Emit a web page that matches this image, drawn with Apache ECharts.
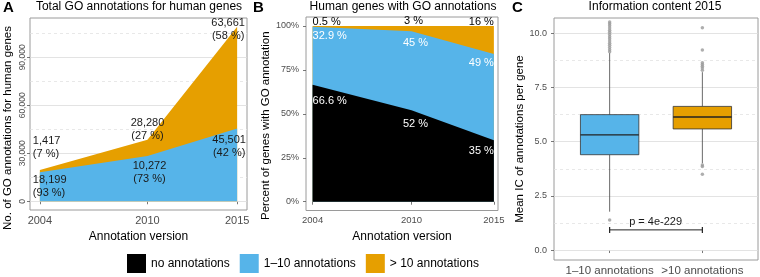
<!DOCTYPE html>
<html>
<head>
<meta charset="utf-8">
<script src="https://cdn.jsdelivr.net/npm/echarts@6/dist/echarts.min.js"></script>
<style>
  html, body { margin: 0; padding: 0; background: #fff; }
  #main { width: 760px; height: 277px; }
</style>
</head>
<body>
<div id="main"></div>
<script>
// annotation versions
var years = [2004, 2010, 2015];
// panel A: number of annotations
var countLow = [18199, 28280, 45501];   // 1-10 annotations
var countHigh = [1417, 10272, 63661];   // > 10 annotations
var countLowText = ['18,199\n(93 %)', '10,272\n(73 %)', '45,501\n(42 %)'];
var countHighText = ['1,417\n(7 %)', '28,280\n(27 %)', '63,661\n(58 %)'];
var countTicks = [0, 30000, 60000, 90000];
// panel B: percent of genes
var pctNone = [66.6, 52, 35];
var pctLow = [32.9, 45, 49];
var pctHigh = [0.5, 3, 16];
var pctTicks = [0, 25, 50, 75, 100];
// panel C: information content boxplots [low, q1, median, q3, high]
var boxCats = ['1–10 annotations', '>10 annotations'];
var boxStats = [
  [1.77, 4.40, 5.32, 6.25, 9.10],
  [4.00, 5.59, 6.14, 6.63, 8.21]
];
var outliersLow = [1.39, 9.15, 9.25, 9.35, 9.45, 9.55, 9.65, 9.75, 9.85, 9.95, 10.05, 10.15, 10.25, 10.35, 10.45, 10.52];
var outliersHigh = [3.50, 3.85, 3.93, 8.30, 8.40, 8.48, 8.56, 8.64, 9.23, 10.26];
var icTicks = [0, 2.5, 5, 7.5, 10];
var pBracket = 0.93;
var pText = 'p = 4e-229';

var BLACK = '#000000', BLUE = '#56B4E9', ORANGE = '#E69F00';
var FONT = "'Liberation Sans', Arial, sans-serif";

var chart = echarts.init(document.getElementById('main'));

// label placement per point (style only)
var lblA_high = [
  {align: 'left', offset: [-7, -22]},
  {align: 'center', offset: [0, -10]},
  {align: 'center', offset: [-9, 3]}
];
var lblA_low = [
  {align: 'left', offset: [-7, 14]},
  {align: 'center', offset: [2, 16]},
  {align: 'center', offset: [-8, 18]}
];
var lblB_none = [
  {align: 'left', offset: [0, 16]},
  {align: 'center', offset: [4, 14]},
  {align: 'right', offset: [0, 11]}
];
var lblB_low = [
  {align: 'left', offset: [0, 9]},
  {align: 'center', offset: [4, 12]},
  {align: 'right', offset: [0, 9]}
];
var lblB_high = [
  {align: 'left', offset: [0, -4]},
  {align: 'center', offset: [2, -5]},
  {align: 'right', offset: [0, -4]}
];

// running sums for the stacked areas
function addUp() {
  var arrs = arguments;
  return years.map(function(y, i) {
    var s = 0;
    for (var k = 0; k < arrs.length; k++) s += arrs[k][i];
    return Math.round(s * 100) / 100;
  });
}
var countTotal = addUp(countLow, countHigh);
var pctNoneLow = addUp(pctNone, pctLow);
var pctAll = addUp(pctNone, pctLow, pctHigh);

function points(vals, texts, lbls, color) {
  return vals.map(function(v, i) {
    return {
      value: [years[i], v],
      label: {
        show: true, position: 'inside', formatter: texts[i],
        align: lbls[i].align, offset: lbls[i].offset, color: color
      }
    };
  });
}
function pctText(vals) {
  return vals.map(function(v) { return v + ' %'; });
}

var totalMax = Math.max.apply(null, countTotal);

function gridLines(major, minor, maxV) {
  var d = [];
  major.forEach(function(v) {
    d.push({yAxis: v, lineStyle: {color: '#dcdcdc', width: 0.8, type: 'solid'}});
  });
  minor.forEach(function(v) {
    if (v < maxV) d.push({yAxis: v, lineStyle: {color: '#e2e2e2', width: 0.8, type: [3, 3]}});
  });
  return {silent: true, symbol: 'none', z: 1, label: {show: false}, data: d};
}

function area(name, xi, color, z, vals, texts, lbls, txtColor, fs) {
  return {name: name, type: 'line', xAxisIndex: xi, yAxisIndex: xi,
    symbol: 'circle', symbolSize: 0, lineStyle: {width: 0}, itemStyle: {color: color},
    areaStyle: {color: color, opacity: 1}, z: z,
    label: {fontSize: fs, lineHeight: 13},
    data: points(vals, texts, lbls, txtColor)};
}

var tickLabel = {color: '#4d4d4d', fontFamily: FONT};
var axisTick = {show: true, length: 3, lineStyle: {color: '#555', width: 0.8}};
var nameStyle = {fontSize: 12, color: '#000', fontFamily: FONT};
function yearFmt(v) { return String(v); }

var seriesA_high = area('> 10 annotations', 0, ORANGE, 2, countTotal, countHighText, lblA_high, '#1a1a1a', 11);
seriesA_high.markLine = gridLines(countTicks, countTicks.map(function(v) { return v + 15000; }), 1.05 * totalMax);

var option = {
  animation: false,
  backgroundColor: '#fff',
  textStyle: {fontFamily: FONT},
  title: [
    {text: 'A', left: 3, top: 0, padding: 0, textStyle: {fontSize: 15, fontWeight: 'bold', color: '#000', fontFamily: FONT}},
    {text: 'Total GO annotations for human genes', left: 139, top: 1, padding: 0, textAlign: 'center',
      textStyle: {fontSize: 12, fontWeight: 'normal', color: '#000', fontFamily: FONT}},
    {text: 'B', left: 253, top: 0, padding: 0, textStyle: {fontSize: 15, fontWeight: 'bold', color: '#000', fontFamily: FONT}},
    {text: 'Human genes with GO annotations', left: 403, top: 1, padding: 0, textAlign: 'center',
      textStyle: {fontSize: 12, fontWeight: 'normal', color: '#000', fontFamily: FONT}},
    {text: 'C', left: 512, top: 0, padding: 0, textStyle: {fontSize: 15, fontWeight: 'bold', color: '#000', fontFamily: FONT}},
    {text: 'Information content 2015', left: 655, top: 1, padding: 0, textAlign: 'center',
      textStyle: {fontSize: 12, fontWeight: 'normal', color: '#000', fontFamily: FONT}}
  ],
  legend: {
    left: 127, top: 254, padding: 0, itemWidth: 19, itemHeight: 19, itemGap: 10, icon: 'rect',
    data: ['no annotations', '1–10 annotations', '> 10 annotations'],
    textStyle: {fontSize: 12, color: '#000', fontFamily: FONT}
  },
  grid: [
    {left: 30, top: 18, width: 217, height: 192, show: true, borderColor: '#9a9a9a', borderWidth: 1, backgroundColor: 'transparent'},
    {left: 306, top: 17, width: 192, height: 193.5, show: true, borderColor: '#9a9a9a', borderWidth: 1, backgroundColor: 'transparent'},
    {left: 554, top: 18, width: 204, height: 242, show: true, borderColor: '#9a9a9a', borderWidth: 1, backgroundColor: 'transparent'}
  ],
  xAxis: [
    {type: 'value', gridIndex: 0, min: 2003.45, max: 2015.55,
      axisLine: {show: false}, splitLine: {show: false}, axisTick: Object.assign({customValues: years}, axisTick),
      axisLabel: Object.assign({customValues: years, fontSize: 11, margin: 5, formatter: yearFmt}, tickLabel),
      name: 'Annotation version', nameLocation: 'middle', nameGap: 16, nameTextStyle: nameStyle},
    {type: 'value', gridIndex: 1, min: 2003.6, max: 2015.25,
      axisLine: {show: false}, splitLine: {show: false}, axisTick: Object.assign({customValues: years}, axisTick),
      axisLabel: Object.assign({customValues: years, fontSize: 9.5, margin: 5, formatter: yearFmt}, tickLabel),
      name: 'Annotation version', nameLocation: 'middle', nameGap: 16, nameTextStyle: nameStyle},
    {type: 'value', gridIndex: 2, min: 0.4, max: 2.6,
      axisLine: {show: false}, splitLine: {show: false}, axisTick: Object.assign({customValues: [1, 2]}, axisTick),
      axisLabel: Object.assign({customValues: [1, 2], fontSize: 11.5, margin: 5,
        formatter: function(v) { return boxCats[Math.round(v) - 1]; }}, tickLabel)}
  ],
  yAxis: [
    {type: 'value', gridIndex: 0, min: -0.05 * totalMax, max: 1.05 * totalMax,
      axisLine: {show: false}, splitLine: {show: false}, axisTick: Object.assign({customValues: countTicks}, axisTick),
      axisLabel: Object.assign({customValues: countTicks, fontSize: 8.5, rotate: 90, margin: 3,
        formatter: function(v) { return v.toLocaleString('en-US'); }}, tickLabel),
      name: 'No. of GO annotations for human genes', nameLocation: 'middle', nameGap: 16,
      nameTextStyle: {fontSize: 11.5, color: '#000', fontFamily: FONT, padding: [0, 28, 0, 0]}},
    {type: 'value', gridIndex: 1, min: -5, max: 105.1,
      axisLine: {show: false}, splitLine: {show: false}, axisTick: Object.assign({customValues: pctTicks}, axisTick),
      axisLabel: Object.assign({customValues: pctTicks, fontSize: 9, margin: 7,
        formatter: function(v) { return v + '%'; }}, tickLabel),
      name: 'Percent of genes with GO annotation', nameLocation: 'middle', nameGap: 33,
      nameTextStyle: {fontSize: 11.5, color: '#000', fontFamily: FONT, padding: [0, 24, 0, 0]}},
    {type: 'value', gridIndex: 2, min: -0.46, max: 10.71,
      axisLine: {show: false}, splitLine: {show: false}, axisTick: Object.assign({customValues: icTicks}, axisTick),
      axisLabel: Object.assign({customValues: icTicks, fontSize: 9, margin: 7,
        formatter: function(v) { return v.toFixed(1); }}, tickLabel),
      name: 'Mean IC of annotations per gene', nameLocation: 'middle', nameGap: 25,
      nameTextStyle: {fontSize: 11.5, color: '#000', fontFamily: FONT}}
  ],
  series: [
    // Panel A: total drawn first, 1-10 part laid over it
    seriesA_high,
    area('1–10 annotations', 0, BLUE, 3, countLow, countLowText, lblA_low, '#1a1a1a', 11),
    // Panel B
    area('> 10 annotations', 1, ORANGE, 2, pctAll, pctText(pctHigh), lblB_high, '#000', 11),
    area('1–10 annotations', 1, BLUE, 3, pctNoneLow, pctText(pctLow), lblB_low, '#fff', 11),
    area('no annotations', 1, BLACK, 4, pctNone, pctText(pctNone), lblB_none, '#fff', 11),
    // Panel C boxes
    {name: 'ic', type: 'custom', xAxisIndex: 2, yAxisIndex: 2, z: 3,
      encode: {x: 0, y: [1, 2, 3, 4, 5]},
      data: boxStats.map(function(s, i) { return [i + 1].concat(s); }),
      markLine: gridLines(icTicks, icTicks.map(function(v) { return v + 1.25; }), 10.71),
      renderItem: function(params, api) {
        var x = api.value(0);
        var lo = api.coord([x, api.value(1)]);
        var q1 = api.coord([x, api.value(2)]);
        var md = api.coord([x, api.value(3)]);
        var q3 = api.coord([x, api.value(4)]);
        var hi = api.coord([x, api.value(5)]);
        var hw = api.size([0.63, 0])[0] / 2;
        var cx = md[0];
        var fill = params.dataIndex === 0 ? BLUE : ORANGE;
        return {type: 'group', children: [
          {type: 'line', shape: {x1: cx, y1: lo[1], x2: cx, y2: q1[1]}, style: {stroke: '#444', lineWidth: 0.8}},
          {type: 'line', shape: {x1: cx, y1: q3[1], x2: cx, y2: hi[1]}, style: {stroke: '#444', lineWidth: 0.8}},
          {type: 'rect', shape: {x: cx - hw, y: q3[1], width: 2 * hw, height: q1[1] - q3[1]},
            style: {fill: fill, stroke: '#333', lineWidth: 0.8}},
          {type: 'line', shape: {x1: cx - hw, y1: md[1], x2: cx + hw, y2: md[1]}, style: {stroke: '#222', lineWidth: 1.3}}
        ]};
      }},
    {name: 'outliers', type: 'scatter', xAxisIndex: 2, yAxisIndex: 2, z: 4,
      symbolSize: 3.5, itemStyle: {color: '#9a9a9a', opacity: 0.8},
      data: outliersLow.map(function(v) { return [1, v]; }).concat(outliersHigh.map(function(v) { return [2, v]; }))},
    {name: 'pval', type: 'line', xAxisIndex: 2, yAxisIndex: 2, z: 4,
      symbol: 'rect', symbolSize: [1.2, 6], itemStyle: {color: '#222'}, lineStyle: {color: '#222', width: 1},
      data: [
        {value: [1, pBracket], label: {show: true, position: 'inside', offset: [46, -8], formatter: pText,
          fontSize: 11, color: '#1a1a1a'}},
        {value: [2, pBracket]}
      ]}
  ]
};
chart.setOption(option);
</script>
</body>
</html>
